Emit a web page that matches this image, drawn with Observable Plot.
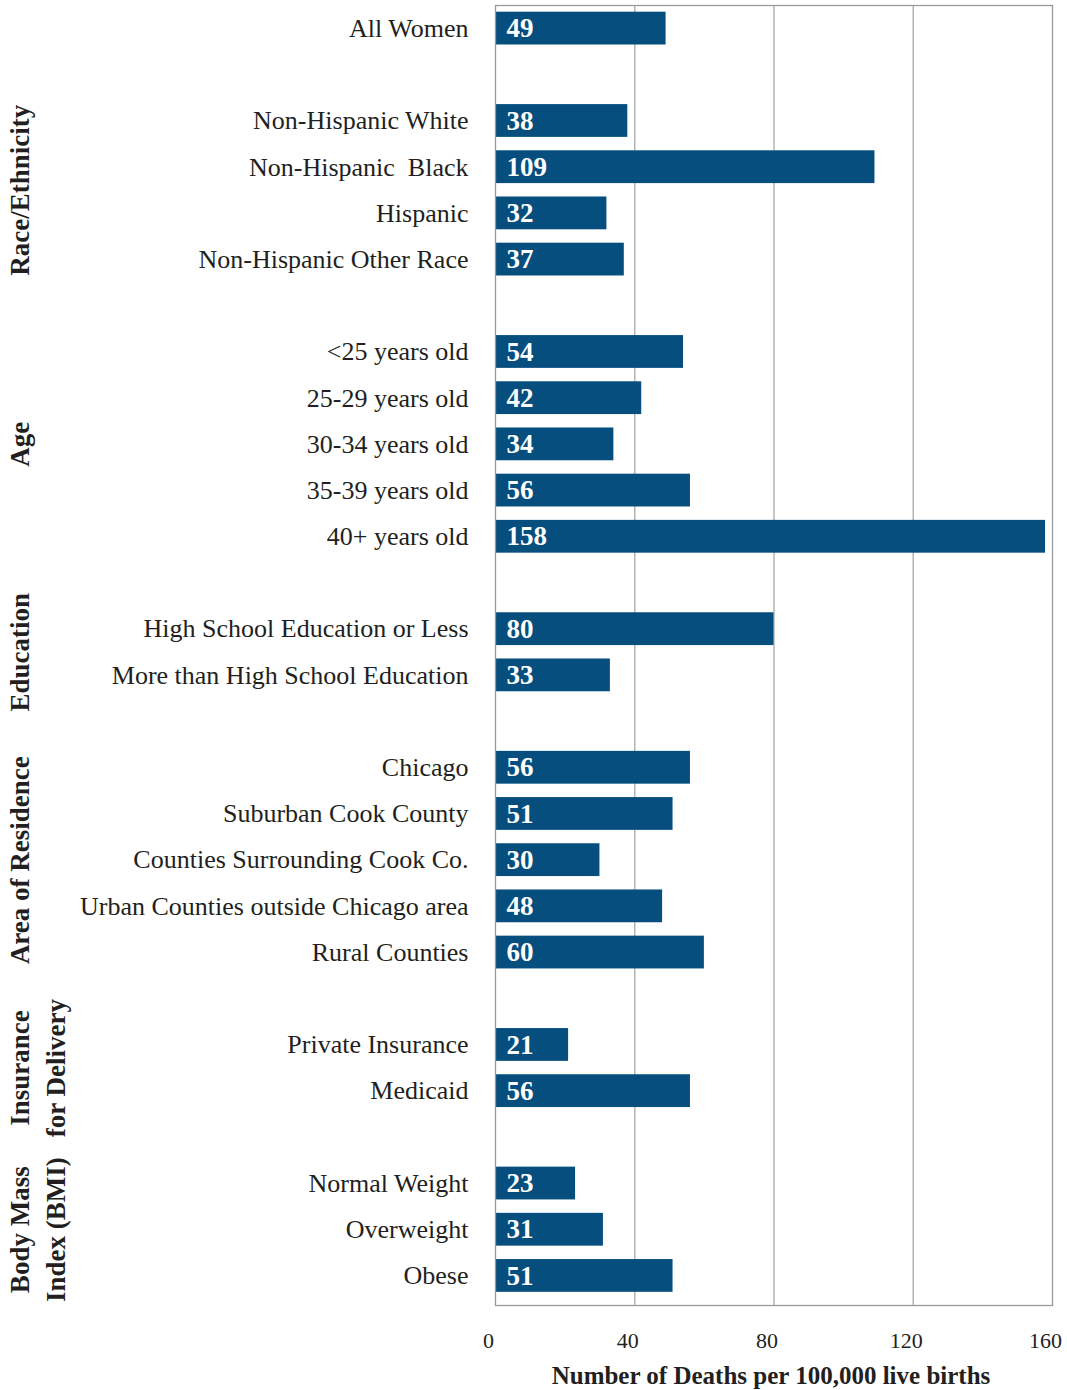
<!DOCTYPE html>
<html>
<head>
<meta charset="utf-8">
<script src="https://cdn.jsdelivr.net/npm/d3@7"></script>
<script src="https://cdn.jsdelivr.net/npm/@observablehq/plot@0.6"></script>
<style>
  html, body { margin: 0; padding: 0; background: #fff; }
  svg { display: block; }
</style>
</head>
<body>
<div id="chart"></div>
<script>
// ---- data ----
const categories = [
  "All Women",
  "Non-Hispanic White", "Non-Hispanic\u00A0 Black", "Hispanic", "Non-Hispanic Other Race",
  "<25 years old", "25-29 years old", "30-34 years old", "35-39 years old", "40+ years old",
  "High School Education or Less", "More than High School Education",
  "Chicago", "Suburban Cook County", "Counties Surrounding Cook Co.", "Urban Counties outside Chicago area", "Rural Counties",
  "Private Insurance", "Medicaid",
  "Normal Weight", "Overweight", "Obese"
];
const values = [
  49,
  38, 109, 32, 37,
  54, 42, 34, 56, 158,
  80, 33,
  56, 51, 30, 48, 60,
  21, 56,
  23, 31, 51
];
const groupOf = [
  "",
  "Race/Ethnicity", "Race/Ethnicity", "Race/Ethnicity", "Race/Ethnicity",
  "Age", "Age", "Age", "Age", "Age",
  "Education", "Education",
  "Area of Residence", "Area of Residence", "Area of Residence", "Area of Residence", "Area of Residence",
  "Insurance\nfor Delivery", "Insurance\nfor Delivery",
  "Body Mass\nIndex (BMI)", "Body Mass\nIndex (BMI)", "Body Mass\nIndex (BMI)"
];
const xTicks = [0, 40, 80, 120, 160];
const xLabel = "Number of Deaths per 100,000 live births";

// ---- build rows (a blank row separates groups) ----
const rows = [];
let idx = 0;
categories.forEach((c, i) => {
  if (i > 0 && groupOf[i] !== groupOf[i - 1]) idx++;
  rows.push({category: c, value: values[i], group: groupOf[i], row: idx});
  idx++;
});
const nRows = idx;
const groupLabels = d3.groups(rows.filter(d => d.group), d => d.group)
  .map(([g, rs]) => ({group: g, row: d3.mean(rs, r => r.row)}));
const rowName = new Map(rows.map(d => [d.row, d.category]));

const FONT = "'Liberation Serif', 'Times New Roman', serif";
const BAR = "#064e7e";
const half = 0.355;

const chart = Plot.plot({
  width: 1067,
  height: 1390,
  marginLeft: 495,
  marginRight: 15,
  marginTop: 5,
  marginBottom: 85,
  style: {fontFamily: FONT, color: "#231f20", background: "#fff"},
  x: {domain: [0, 160]},
  y: {domain: [-0.5, nRows - 0.36], reverse: true},
  marks: [
    Plot.gridX([40, 80, 120], {stroke: "#b4b4b4", strokeWidth: 1.5, strokeOpacity: 1}),
    Plot.rectX(rows, {x1: 0, x2: "value", y1: d => d.row - half, y2: d => d.row + half, fill: BAR}),
    Plot.frame({stroke: "#9a9a9a", strokeWidth: 1.3}),
    Plot.text(rows, {x: 0, y: "row", text: d => String(d.value), textAnchor: "start", dx: 11, dy: 0,
      fill: "#fff", fontWeight: "bold", fontSize: 27}),
    Plot.axisY(rows.map(d => d.row), {tickSize: 0, tickPadding: 27, tickFormat: d => rowName.get(d),
      fontSize: 26, label: null, fill: "#231f20"}),
    Plot.axisX(xTicks, {tickSize: 0, tickPadding: 27, fontSize: 22, dx: -7, label: null, fill: "#231f20"}),
    Plot.text([xLabel], {frameAnchor: "bottom", text: d => d, dy: 78, fontWeight: "bold", fontSize: 25,
      fill: "#231f20", dx: -3}),
    Plot.text(groupLabels, {y: "row", text: "group", frameAnchor: "left", dx: -491, rotate: -90,
      lineAnchor: "top", textAnchor: "middle", fontWeight: "bold", fontSize: 27, lineHeight: 1.3,
      fill: "#231f20"})
  ]
});
document.getElementById("chart").appendChild(chart);
</script>
</body>
</html>
